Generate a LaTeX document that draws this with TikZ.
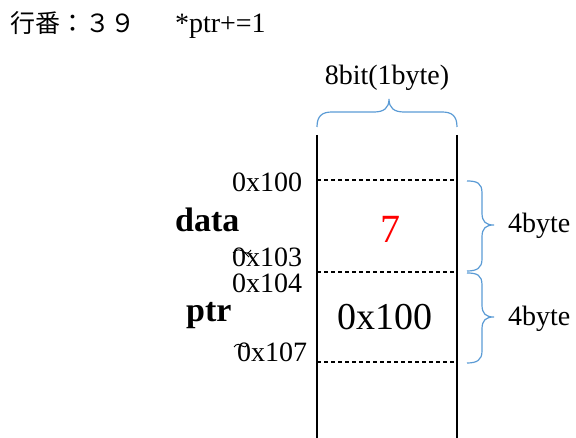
\documentclass[tikz,border=0pt]{standalone}
\usepackage{fontspec}
\setmainfont{Liberation Serif}
\newfontfamily\cjk{Noto Sans CJK JP}
\definecolor{braceblue}{HTML}{5B9BD5}
\begin{document}
\begin{tikzpicture}[x=1pt,y=-1pt,
  txt/.style={inner sep=0pt,outer sep=0pt,font=\fontsize{28}{32}\selectfont},
  addr/.style={txt,anchor=base east},
  varname/.style={inner sep=0pt,anchor=base west,font=\fontsize{34}{40}\selectfont\bfseries},
  cellval/.style={inner sep=0pt,anchor=base,font=\fontsize{38}{44}\selectfont},
  wall/.style={line width=1.8pt,black},
  cellsep/.style={line width=1.3pt,black,dash pattern=on 4pt off 3pt},
  bracket/.style={line width=1.2pt,braceblue}]
\useasboundingbox (0,0) rectangle (576,438);

% heading
\node[inner sep=0pt,anchor=base west,font=\cjk\fontsize{25}{30}\selectfont] (lineno) at (10,33) {行番：３９};
\node[txt,anchor=base west] (stmt) at (175,33) {*ptr+=1};

% width of one memory cell
\node[txt,anchor=base] (width) at (387,85) {8bit(1byte)};
\draw[bracket] (317,127) .. controls (317,116) and (322,112) .. (332,112) -- (374,112)
  .. controls (384,112) and (389,108) .. (389,99)
  .. controls (389,108) and (394,112) .. (404,112) -- (442,112)
  .. controls (452,112) and (457,116) .. (457,127);

% memory column
\coordinate (lt) at (317,135);
\coordinate (lb) at (317,438);
\coordinate (rt) at (457,135);
\coordinate (rb) at (457,438);
\draw[wall] (lt) -- (lb);
\draw[wall] (rt) -- (rb);

\coordinate (s1l) at (317,180); \coordinate (s1r) at (457,180);
\coordinate (s2l) at (317,272); \coordinate (s2r) at (457,272);
\coordinate (s3l) at (317,362); \coordinate (s3r) at (457,362);
\draw[cellsep] (s1l) -- (s1r);
\draw[cellsep] (s2l) -- (s2r);
\draw[cellsep] (s3l) -- (s3r);

% addresses
\node[addr] (a100) at (302,192) {0x100};
\node[addr] (a103) at (302,267) {0x103};
\node[addr] (a104) at (302,293) {0x104};
\node[addr] (a107) at (307,362) {0x107};
\draw[line width=0.9pt] (233,253) .. controls (237,248) and (241,250) .. (244,252)
  .. controls (247,254) and (249,253) .. (251,250);
\draw[line width=0.8pt] (243,251) -- (249,257);
\draw[line width=0.9pt] (234,347) .. controls (237,343) and (240,344) .. (242,346)
  .. controls (244,348) and (246,347) .. (248,344);

% variable names
\node[varname] (data) at (175,232) {data};
\node[varname] (ptr) at (186,322) {ptr};

% cell contents
\node[cellval,text=red,font=\fontsize{40}{46}\selectfont] (seven) at (390,243) {7};
\node[cellval] (pval) at (385,330) {0x100};

% sizes of the two variables
\draw[bracket] (467,181) .. controls (477,181) and (482,183) .. (482,193) -- (482,213)
  .. controls (482,222) and (486,225) .. (494,225)
  .. controls (486,225) and (482,228) .. (482,237) -- (482,259)
  .. controls (482,268) and (477,271) .. (467,271);
\draw[bracket] (467,273) .. controls (477,273) and (482,275) .. (482,285) -- (482,305)
  .. controls (482,314) and (486,317) .. (494,317)
  .. controls (486,317) and (482,320) .. (482,329) -- (482,351)
  .. controls (482,360) and (477,363) .. (467,363);
\node[txt,anchor=base west] (sz1) at (508,233) {4byte};
\node[txt,anchor=base west] (sz2) at (508,326) {4byte};
\end{tikzpicture}
\end{document}
